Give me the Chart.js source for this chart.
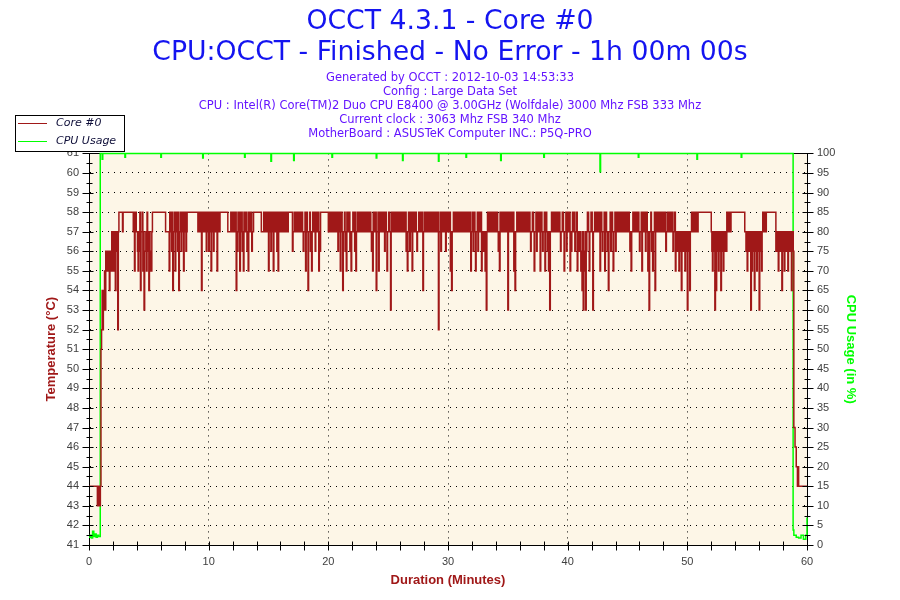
<!DOCTYPE html>
<html>
<head>
<meta charset="utf-8">
<title>OCCT 4.3.1 - Core #0</title>
<script src="https://cdn.jsdelivr.net/npm/chart.js@4.4.1/dist/chart.umd.min.js"></script>
<style>
  html, body { margin: 0; padding: 0; background: #ffffff; }
  #wrap { width: 900px; height: 600px; }
</style>
</head>
<body>
<div id="wrap"><canvas id="c" width="900" height="600"></canvas></div>
<script>
// ---------------- DATA ----------------
const titleLines = ["OCCT 4.3.1 - Core #0", "CPU:OCCT - Finished - No Error - 1h 00m 00s"];
const subtitleLines = [
  "Generated by OCCT : 2012-10-03 14:53:33",
  "Config : Large Data Set",
  "CPU : Intel(R) Core(TM)2 Duo CPU E8400 @ 3.00GHz (Wolfdale) 3000 Mhz FSB 333 Mhz",
  "Current clock : 3063 Mhz FSB 340 Mhz",
  "MotherBoard : ASUSTeK Computer INC.: P5Q-PRO"
];
const seriesNames = ["Core #0", "CPU Usage"];
const axisTitles = { x: "Duration (Minutes)", temp: "Temperature (°C)", cpu: "CPU Usage (in %)" };
const xRange = [0, 60];          // minutes
const xLabelStep = 10;
const xMinorStep = 2;
const tempRange = [41, 61];      // °C
const cpuRange = [0, 100];       // %

// Core #0 temperature, one reading every 0.05 minute (row = one minute)
const tempStepMin = 0.05;
const tempValues = [
  44,44,44,44,44,44,44,44,44,44,44,44,44,44,43,44,43,44,43,44, // 0
  51,52,54,52,53,54,55,53,56,55,55,56,56,55,54,56,56,55,57,56, // 1
  55,57,57,55,54,57,57,56,52,57,58,58,58,58,58,58,57,58,58,58, // 2
  58,58,58,58,58,58,58,58,58,58,58,58,58,58,57,58,55,57,58,57, // 3
  57,56,55,57,56,58,54,57,57,58,55,57,53,56,56,57,55,58,57,56, // 4
  54,57,56,55,55,57,58,58,58,58,58,58,58,58,58,58,58,58,58,58, // 5
  58,58,58,58,58,58,58,58,57,57,57,57,57,57,55,58,58,57,56,58, // 6
  54,57,57,58,55,57,58,57,56,58,54,57,57,58,56,57,58,57,55,58, // 7
  57,58,56,57,58,58,58,58,58,58,58,58,58,58,58,58,58,58,58,58, // 8
  58,58,57,58,58,57,57,58,54,57,58,57,57,58,58,57,56,58,57,58, // 9
  56,57,58,57,55,58,57,58,56,57,58,57,57,58,55,57,58,57,57,58, // 10
  58,58,58,58,58,58,58,58,58,58,58,58,57,57,57,57,57,58,58,57, // 11
  57,58,58,57,57,58,54,57,56,58,58,57,55,58,57,58,56,57,55,58, // 12
  58,57,57,58,56,57,55,58,58,57,57,58,56,57,57,58,58,58,58,58, // 13
  58,58,58,58,58,58,58,58,57,57,57,57,58,57,57,58,58,57,57,58, // 14
  55,58,57,58,56,57,58,57,55,58,57,58,58,57,56,58,55,57,58,57, // 15
  57,58,58,57,57,58,58,57,57,58,58,57,57,58,58,58,58,58,58,58, // 16
  56,57,57,58,58,57,57,58,58,57,57,58,58,57,57,58,58,57,56,57, // 17
  57,58,55,57,58,57,54,57,57,58,56,57,55,57,58,57,57,58,56,57, // 18
  58,57,57,58,55,57,56,58,58,58,58,58,58,58,58,58,58,58,58,58, // 19
  57,58,58,57,57,58,58,57,57,58,58,57,57,58,58,57,56,58,57,58, // 20
  55,57,58,57,54,57,57,58,56,57,55,58,58,57,57,58,56,57,55,57, // 21
  57,58,58,57,56,58,55,57,57,58,58,57,57,58,58,57,57,58,58,57, // 22
  57,58,58,57,57,58,58,57,57,58,58,57,56,57,55,58,58,57,57,58, // 23
  54,57,57,58,55,57,58,57,57,58,58,57,57,58,56,57,58,57,55,57, // 24
  57,58,58,57,53,57,58,57,57,58,58,57,57,58,58,57,57,58,58,57, // 25
  57,58,58,57,57,58,58,57,57,58,56,57,55,57,58,57,56,58,57,58, // 26
  55,57,58,57,57,58,58,57,56,57,57,58,58,57,57,58,58,57,54,57, // 27
  58,57,57,58,58,57,57,58,58,57,57,58,58,57,57,58,58,57,57,58, // 28
  58,57,57,58,52,57,57,58,56,57,58,57,57,58,58,57,56,58,57,58, // 29
  58,57,57,58,55,57,54,57,57,58,58,57,57,58,58,57,57,58,58,57, // 30
  57,58,58,57,57,58,58,57,57,58,58,57,57,58,58,57,57,58,55,57, // 31
  57,58,56,57,58,57,55,57,57,58,56,57,58,57,57,58,55,57,56,57, // 32
  57,56,55,57,53,57,58,57,57,58,58,57,57,58,58,57,57,58,58,57, // 33
  57,58,58,57,56,57,55,58,58,57,57,58,58,57,57,58,58,57,57,58, // 34
  53,57,58,57,57,58,58,57,57,58,55,57,54,57,57,58,58,57,57,58, // 35
  58,57,57,58,58,57,57,58,58,57,57,58,58,57,57,58,58,57,56,57, // 36
  57,58,58,57,55,57,57,58,56,57,58,57,57,58,55,57,58,57,56,57, // 37
  57,58,55,57,58,57,56,57,55,57,53,57,57,58,58,57,57,58,58,57, // 38
  57,58,58,57,57,58,58,57,56,57,57,58,58,57,55,57,57,58,56,57, // 39
  58,57,57,58,55,57,56,57,58,57,57,58,56,57,57,58,55,57,57,56, // 40
  56,57,55,56,54,57,53,56,55,57,53,56,57,58,58,57,55,57,57,58, // 41
  58,57,53,57,57,58,58,57,57,58,58,57,57,58,55,57,58,57,56,57, // 42
  57,58,55,57,58,57,56,57,54,57,57,58,56,57,58,57,55,57,57,58, // 43
  56,57,58,57,57,58,58,57,57,58,58,57,57,58,58,57,57,58,58,57, // 44
  57,58,58,57,56,57,55,57,57,58,58,57,57,58,58,57,57,58,58,57, // 45
  56,57,57,58,55,57,58,57,57,58,56,57,58,57,55,57,53,57,57,58, // 46
  56,57,55,57,57,58,54,57,58,57,57,58,58,57,57,58,58,57,57,58, // 47
  58,57,57,58,56,57,57,58,58,57,57,58,58,57,57,58,56,57,57,58, // 48
  55,57,56,57,57,56,55,57,56,57,54,57,57,56,56,57,55,57,57,56, // 49
  53,57,56,57,54,57,57,58,58,57,57,58,58,57,57,58,58,57,58,58, // 50
  58,58,58,58,58,58,58,58,58,58,58,58,58,58,58,58,58,58,58,58, // 51
  57,56,55,57,56,57,53,57,54,57,57,56,55,57,56,57,54,57,57,56, // 52
  55,57,56,57,57,56,58,57,57,58,58,57,57,58,58,58,58,58,58,58, // 53
  58,58,58,58,58,58,58,58,58,58,58,58,58,58,58,58,57,57,56,57, // 54
  55,57,57,56,56,57,53,57,55,57,57,56,54,57,56,57,55,57,57,56, // 55
  53,57,56,57,55,57,58,57,57,58,58,57,58,58,58,58,58,58,58,58, // 56
  58,58,58,58,58,58,58,58,56,57,57,56,55,57,56,57,57,56,54,57, // 57
  56,57,55,57,57,56,56,57,55,57,57,56,56,57,54,57,57,56,47,47, // 58
  46,46,45,45,44,45,44,44,44,44,44,44,44,44,44,44,44,44,44,44, // 59
  44                                                           // 60
];

// CPU usage (%), sampled where it changes (value holds until the next time)
const cpuTimes = [0, 0.1, 0.2, 0.3, 0.4, 0.5, 0.6, 0.7, 0.8, 0.94, 1.1, 1.15, 3.0, 3.05, 6.0, 6.05,
  9.5, 9.55, 13.0, 13.05, 15.2, 15.25, 17.1, 17.15, 20.3, 20.35, 24.0, 24.05, 26.2, 26.25,
  29.2, 29.25, 31.5, 31.55, 34.4, 34.45, 38.0, 38.05, 42.7, 42.75, 45.9, 45.95, 50.8, 50.85,
  54.5, 54.55, 58.84, 58.9, 59.1, 59.3, 59.5, 59.7, 59.9, 60];
const cpuValues = [2, 2.5, 1.8, 3.5, 2.2, 2.8, 2, 2.5, 2.2, 100, 98.5, 100, 99, 100, 99, 100,
  98.8, 100, 99, 100, 98, 100, 98.2, 100, 99, 100, 98.8, 100, 98.2, 100,
  98, 100, 99, 100, 98.2, 100, 99, 100, 95.3, 100, 99, 100, 98.5, 100,
  99, 100, 3.8, 2.5, 2, 1.8, 2.5, 1.5, 2.5, 7];

// ---------------- STYLE ----------------
const RED = '#a01818';
const GREEN = '#00ff00';
const PLOT_BG = '#fdf6e7';

const tempPoints = tempValues.map((v, i) => ({ x: Math.round(i * tempStepMin * 100) / 100, y: v }));
const cpuPoints = cpuTimes.map((t, i) => ({ x: t, y: cpuValues[i] }));

const crisp = v => Math.round(v) + 0.5;

const occtPlugin = {
  id: 'occt',
  beforeDraw(chart) {
    const { ctx, chartArea: a } = chart;
    ctx.save();
    ctx.fillStyle = PLOT_BG;
    ctx.fillRect(a.left, a.top, a.right - a.left, a.bottom - a.top);
    ctx.restore();
  },
  beforeDatasetsDraw(chart) {
    const { ctx, chartArea: a } = chart;
    ctx.save();
    ctx.strokeStyle = '#000';
    ctx.lineWidth = 1;
    ctx.beginPath();
    ctx.moveTo(a.left, crisp(a.top - 0.5));
    ctx.lineTo(a.right, crisp(a.top - 0.5));
    ctx.stroke();
    ctx.restore();
  },
  afterDraw(chart) {
    const { ctx, chartArea: a, scales } = chart;
    ctx.save();
    ctx.strokeStyle = '#000';
    ctx.lineWidth = 1;
    ctx.beginPath();
    // left axis ticks (major each 1, minor each 0.5)
    const xl = crisp(a.left - 0.5);
    for (let v = tempRange[0]; v <= tempRange[1] + 1e-9; v += 0.5) {
      const y = crisp(scales.y.getPixelForValue(v));
      const major = Math.abs(v - Math.round(v)) < 1e-9;
      ctx.moveTo(xl - (major ? 7 : 3), y);
      ctx.lineTo(xl + (major ? 4 : 3), y);
    }
    // right axis ticks (major each 5, minor each 2.5)
    const xr = crisp(a.right - 0.5);
    for (let v = cpuRange[0]; v <= cpuRange[1] + 1e-9; v += 2.5) {
      const y = crisp(scales.y1.getPixelForValue(v));
      const major = Math.abs(v / 5 - Math.round(v / 5)) < 1e-9;
      ctx.moveTo(xr - (major ? 5 : 3), y);
      ctx.lineTo(xr + (major ? 6 : 3), y);
    }
    // bottom axis ticks each 2 minutes
    const yb = crisp(a.bottom - 0.5);
    for (let v = xRange[0]; v <= xRange[1] + 1e-9; v += xMinorStep) {
      const x = crisp(scales.x.getPixelForValue(v));
      ctx.moveTo(x, yb - 4);
      ctx.lineTo(x, yb + 5);
    }
    ctx.stroke();

    // legend box
    const lx = 15, ly = 115, lw = 109, lh = 36;
    ctx.fillStyle = '#fff';
    ctx.fillRect(lx, ly, lw, lh);
    ctx.strokeStyle = '#000';
    ctx.strokeRect(lx + 0.5, ly + 0.5, lw, lh);
    chart.data.datasets.forEach((ds, i) => {
      const yy = ly + 8.5 + i * 18;
      ctx.strokeStyle = ds.borderColor;
      ctx.lineWidth = 1;
      ctx.beginPath();
      ctx.moveTo(lx + 3, yy);
      ctx.lineTo(lx + 32, yy);
      ctx.stroke();
      ctx.fillStyle = '#10103a';
      ctx.font = 'italic 11px "DejaVu Sans", Verdana, sans-serif';
      ctx.textBaseline = 'middle';
      ctx.textAlign = 'left';
      ctx.fillText(ds.label, lx + 41, yy);
    });
    ctx.restore();
  }
};

const tickFont = { family: '"Liberation Sans", Arial, sans-serif', size: 11 };
const axisTitleFont = { family: '"Liberation Sans", Arial, sans-serif', size: 13, weight: 'bold', lineHeight: 1.2 };
const dotted = [1, 5];

new Chart(document.getElementById('c'), {
  type: 'line',
  data: {
    datasets: [
      {
        label: seriesNames[0],
        data: tempPoints,
        yAxisID: 'y',
        borderColor: RED,
        backgroundColor: RED,
        borderWidth: 1.5,
        pointRadius: 0,
        stepped: 'before',
        fill: false,
        order: 1,
        clip: 4
      },
      {
        label: seriesNames[1],
        data: cpuPoints,
        yAxisID: 'y1',
        borderColor: GREEN,
        backgroundColor: GREEN,
        borderWidth: 1.5,
        pointRadius: 0,
        stepped: 'before',
        fill: false,
        order: 2,
        clip: 4
      }
    ]
  },
  options: {
    responsive: false,
    animation: false,
    devicePixelRatio: 1,
    layout: { padding: { top: 0, left: 0, right: 0, bottom: 0 } },
    plugins: {
      legend: { display: false },
      tooltip: { enabled: false },
      title: {
        display: true,
        text: titleLines,
        color: '#1414f0',
        font: { family: '"DejaVu Sans", Verdana, sans-serif', size: 26.7, weight: 'normal', lineHeight: 1.15 },
        padding: { top: 7, bottom: 0 }
      },
      subtitle: {
        display: true,
        text: subtitleLines,
        color: '#6414ff',
        font: { family: '"DejaVu Sans", Verdana, sans-serif', size: 11.5, weight: 'normal', lineHeight: '14px' },
        padding: { top: 3, bottom: 12 }
      }
    },
    scales: {
      x: {
        type: 'linear',
        position: 'bottom',
        min: xRange[0],
        max: xRange[1],
        afterFit(s) { s.height = 55; },
        ticks: {
          stepSize: xLabelStep,
          autoSkip: false,
          color: '#404040',
          font: tickFont,
          padding: 10,
          maxRotation: 0
        },
        grid: {
          drawTicks: false,
          color: '#000',
          lineWidth: 1
        },
        border: { display: true, color: '#000', width: 1, dash: dotted },
        title: {
          display: true,
          text: axisTitles.x,
          color: RED,
          font: axisTitleFont,
          padding: { top: 0, bottom: 12 }
        }
      },
      y: {
        type: 'linear',
        position: 'left',
        min: tempRange[0],
        max: tempRange[1],
        afterFit(s) { s.width = 89; },
        ticks: {
          stepSize: 1,
          autoSkip: false,
          color: '#404040',
          font: tickFont,
          padding: 10
        },
        grid: {
          drawTicks: false,
          color: '#000',
          lineWidth: 1
        },
        border: { display: true, color: '#000', width: 1, dash: dotted },
        title: {
          display: true,
          text: axisTitles.temp,
          color: RED,
          font: axisTitleFont,
          padding: { top: 44, bottom: 0 }
        }
      },
      y1: {
        type: 'linear',
        position: 'right',
        min: cpuRange[0],
        max: cpuRange[1],
        afterFit(s) { s.width = 93; },
        ticks: {
          stepSize: 5,
          autoSkip: false,
          color: '#404040',
          font: tickFont,
          padding: 10
        },
        grid: {
          drawTicks: false,
          drawOnChartArea: false
        },
        border: { display: true, color: '#000', width: 1 },
        title: {
          display: true,
          text: axisTitles.cpu,
          color: GREEN,
          font: axisTitleFont,
          padding: { top: 42, bottom: 0 }
        }
      }
    }
  },
  plugins: [occtPlugin]
});
</script>
</body>
</html>
